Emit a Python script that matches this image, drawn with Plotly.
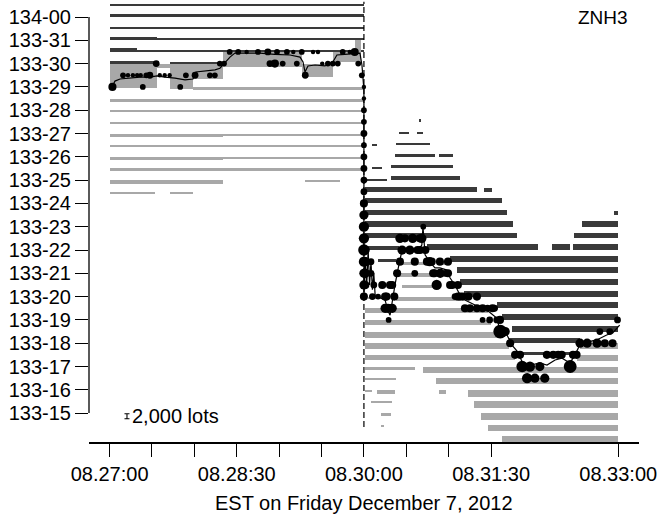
import math
import plotly.graph_objects as go

# ---------------- data ----------------
# time = seconds after 08:27:00 EST ; price = 32nds above 133-00 (32 -> 134-00)
ask_price = [32.5, 32, 31.5, 31, 31, 30.5, 30.5, 30.5, 30, 30,
             27.5, 27, 27, 26.5, 26.5, 26, 26, 25.5, 25.5, 25, 25,
             24.5, 24.5, 24, 23.5, 23.5, 23, 23, 22.5, 22.5,
             22, 22, 22, 22, 21.5, 21.5, 21, 20.5, 20, 19.5, 19, 18.5, 18, 17.5]
ask_from = [0, 0, 0, 0, 33.5, 0, 19.5, 80, 0, 42.5,
            219, 205, 217.5, 186, 203, 202, 233, 186, 199, 181, 199,
            181, 265, 181, 181, 357, 181, 334, 181, 329,
            181, 225, 313, 328, 190, 241, 246, 248, 251, 274, 278, 285, 283, 290]
ask_to = [180, 180, 180, 33.5, 180, 19.5, 80, 180, 33.5, 80,
          220.5, 212, 222, 189, 227, 230, 243, 193, 243, 196, 248,
          260, 271, 278, 281, 360, 285.5, 360, 288, 360,
          205, 303, 326, 360, 203, 360, 360, 360, 360, 360, 360, 360, 333, 331]
ask_lots = [600, 1100, 800, 1200, 800, 1600, 800, 500, 1000, 600,
            1200, 500, 500, 500, 1000, 1200, 1200, 700, 1500, 500, 1600,
            1900, 1500, 2100, 2200, 1800, 2300, 2300, 2300, 2300,
            1500, 2400, 2400, 2400, 1200, 2400, 2400, 2400, 2400, 2400, 2400, 2400, 2000, 1300]

bid_price = [31, 30.5, 30.5, 30, 30, 30, 30, 30, 29, 28.5, 28, 27.5, 27, 27,
             26.5, 26, 26, 25.5, 25, 25, 24.5, 24.5,
             21.5, 21.5, 21, 20.5, 20, 20, 19.5, 19, 18.5, 18, 18, 17.5, 17.5,
             17, 17, 16.5, 16.5, 16, 16, 16, 16, 15.5, 15.5, 15, 15, 14.5, 14.5, 14]
bid_from = [174, 80, 158, 0, 33.5, 42.5, 59, 136, 59, 0, 0, 0, 0, 80,
            0, 0, 80, 0, 0, 138, 0, 43,
            207, 232, 203, 207, 183, 203, 181, 181, 181, 181, 333, 181, 331,
            181, 222, 181, 231, 181, 189, 233, 254, 185, 258, 192, 263, 192, 268, 278]
bid_to = [178, 136, 178, 33.5, 42.5, 59, 80, 158, 180, 180, 180, 180, 80, 180,
          180, 80, 180, 180, 80, 163, 32, 59,
          224, 241, 231, 230, 195, 246, 268, 270, 275, 283, 360, 287, 360,
          216, 360, 203, 360, 186, 202, 238, 360, 200, 360, 199, 360, 194, 360, 360]
bid_lots = [4800, 6000, 4000, 9800, 1800, 10000, 6000, 5200, 1200, 1200, 800, 1000, 1200, 800,
            800, 1400, 1000, 1100, 1400, 600, 1000, 1000,
            1500, 1500, 1500, 1200, 700, 1700, 1700, 2000, 2500, 2300, 2300, 2100, 2600,
            1300, 2400, 700, 2500, 1000, 1500, 1500, 2700, 600, 2600, 1000, 2600, 500, 2600, 2600]

trade_sec = [2, 9.5, 13, 16.5, 19.5, 22, 23.5, 26, 28.5, 33, 35.5, 39, 42.5, 50, 54, 60.5, 71, 74.5,
             78, 81, 85, 91, 97, 105, 112, 113.5, 117, 118.5, 122.5, 125.5, 130, 132.5, 136, 138.5,
             144, 147.5, 150.5, 154.5, 158, 161.5, 165, 170, 173.5, 176, 178.5,
             180, 180, 180, 180, 180, 180, 180, 180, 180, 180, 180, 180, 180, 180, 180, 180, 180, 180, 180,
             181, 181, 181, 181, 185, 185, 186, 187, 190, 193, 195, 195, 196, 197, 197.5, 198.5, 198.5,
             200, 200, 201.5, 203.5, 205.5, 205.5, 207, 209, 212.5, 214.5, 216, 216, 218, 219.5, 219.7,
             221, 222, 223.5, 224.6, 226.5, 228, 229, 230, 231.5, 233.8, 234, 237.5, 239.5, 239.5, 241,
             242.5, 244.5, 246.5, 246.5, 248, 250, 251.5, 254, 255, 260, 260, 264, 264, 267.5, 269, 271,
             272.5, 274, 276.3, 276.5, 280, 283.5, 287, 290.5, 292, 295.5, 297.5, 301, 304.5, 308, 309.5,
             314, 317.5, 320, 326, 328, 330.5, 333, 338, 345, 350.5, 356, 347, 354, 359.5]
trade_price = [29, 29.5, 29.5, 29.5, 29.5, 29.5, 29, 29.5, 29.5, 30, 29.5, 29.5, 29.5, 29, 29.5, 29.5, 29.5, 29.5,
               30, 30, 30.5, 30.5, 30.5, 30.5, 30.5, 30, 30, 30.5, 30, 30.5, 30.5, 30, 30.5, 29.5,
               30.5, 30.5, 30, 30, 30, 30, 30.5, 30.5, 30.5, 30, 29.5,
               29, 28.5, 28, 27.5, 27, 26.5, 26, 25.5, 25, 24.5, 24, 23.5, 23, 22.5, 22, 21.5, 21, 20.5, 20,
               22, 21.5, 21, 20.5, 21.5, 21, 20, 20.5, 20, 20.5, 20, 19.5, 20, 19.5, 19, 19.5, 20.5,
               20.5, 19.5, 20, 21, 21.5, 22.5, 22, 22.5, 22, 22.5, 21, 21.5, 22, 22.5, 22,
               22.5, 23, 22, 21.5, 21.5, 21.5, 21, 21, 20.5, 21.5, 21, 21, 21, 21.5, 20.5,
               20.5, 20, 20.5, 20, 20, 20, 19.5, 20, 19.5, 19.5, 20, 19.5, 19, 19.5, 19, 19.5,
               19.5, 19, 19, 18.5, 18.5, 18, 17.5, 17.5, 17, 16.5, 17, 16.5, 17, 16.5, 17.5,
               17.5, 17.5, 17.5, 17, 17.5, 17.5, 18, 18, 18, 18, 18, 18.5, 18.5, 19]
trade_lots = [1000, 500, 300, 300, 300, 300, 500, 500, 700, 700, 300, 300, 300, 500, 500, 700, 500, 500,
              500, 500, 500, 500, 300, 500, 700, 700, 1000, 500, 500, 500, 300, 500, 500, 700,
              300, 300, 300, 500, 500, 500, 500, 300, 1000, 500, 500,
              300, 300, 500, 500, 700, 500, 700, 700, 700, 700, 1000, 1300, 1600, 1600, 2000, 1600, 1300, 1300, 1000,
              1000, 1300, 1300, 1000, 700, 700, 700, 700, 500, 1000, 1000, 1300, 1000, 1300, 500, 1000, 1000,
              1000, 1300, 1000, 1000, 1000, 1300, 1300, 1000, 1300, 1300, 700, 1000, 1000, 1000, 1000,
              1300, 500, 1000, 1000, 1300, 1000, 1000, 1000, 1600, 1000, 1300, 700, 1000, 1000, 1000,
              1000, 700, 1000, 1000, 1000, 1000, 1000, 1000, 1000, 1000, 1000, 1000, 500, 700, 700, 1000,
              700, 700, 1000, 2900, 1300, 1000, 1000, 1000, 2000, 1600, 1600, 1300, 1300, 1300, 1000,
              1000, 1000, 1000, 2500, 1000, 1000, 1300, 1300, 1300, 1000, 1000, 700, 700, 700]

path_sec = [1.7, 3.8, 7.4, 14.4, 21.5, 28.6, 33.5, 39.2, 46.3, 53.4, 59, 61.1, 67.5, 74.6, 78.1, 81.6,
            85.2, 88.7, 95.8, 106.4, 117, 127.7, 134.8, 136.9, 138.3, 140.4, 145.4, 152.4, 158, 160.9,
            166.5, 173.6, 177.2, 178.6, 179.3, 180, 180, 181, 182, 183, 184, 185, 186, 187, 188, 190,
            195, 197, 198.5, 200, 202, 204, 205.5, 207, 211.2, 214.7, 218.2, 221, 221.8, 222.5, 223.3,
            226.7, 230.3, 233.8, 238.8, 241, 244.4, 248, 251.5, 258.6, 264.2, 269, 274, 276.3, 281.3,
            284.8, 289, 292, 297.6, 304.6, 309.6, 315.3, 320.2, 325.8, 329.3, 332.8, 337.8, 344.8,
            351.8, 356.1, 361]
path_price = [29.0, 29.25, 29.34, 29.38, 29.42, 29.42, 29.47, 29.42, 29.38, 29.3, 29.34, 29.64, 29.68,
              29.73, 29.8, 30.03, 30.28, 30.45, 30.45, 30.45, 30.4, 30.37, 30.28, 30.07, 29.64, 29.9,
              29.94, 29.9, 30.07, 30.37, 30.4, 30.45, 30.45, 29.94, 29.47, 28.87, 20.0, 21.5, 20.5, 22,
              20.5, 21.5, 20.3, 21, 20, 20, 19.85, 19.4, 19.2, 19.85, 20.5, 21.14, 21.66, 22.0, 22.09,
              21.91, 22.0, 22.21, 23.0, 22.2, 21.79, 21.48, 21.23, 21.23, 21.14, 20.8, 20.5, 20.07,
              19.85, 19.64, 19.51, 19.33, 19.08, 18.57, 18.35, 17.92, 17.62, 17.19, 17.06, 17.15,
              17.06, 17.28, 17.36, 17.15, 17.49, 17.92, 18.05, 18.14, 18.35, 18.44, 18.78]

ytick_price = [32, 31, 30, 29, 28, 27, 26, 25, 24, 23, 22, 21, 20, 19, 18, 17, 16, 15]
ytick_text = ["134-00", "133-31", "133-30", "133-29", "133-28", "133-27", "133-26", "133-25",
              "133-24", "133-23", "133-22", "133-21", "133-20", "133-19", "133-18", "133-17",
              "133-16", "133-15"]
xtick_sec = [0, 30, 60, 90, 120, 150, 180, 210, 240, 270, 360]
xtick_text = ["08.27:00", "", "", "08.28:30", "", "", "08.30:00", "", "", "08.31:30", "08.33:00"]
release_sec = 180
scale_lots = 2000
contract = "ZNH3"
x_title = "EST on Friday December 7, 2012"

# ---------------- styling / scales ----------------
PX_PER_32 = 23.3          # vertical pixels per 1/32
LOTS_PER_PX = 400         # book thickness scale
LOT_TO_Y = 1.0 / (LOTS_PER_PX * PX_PER_32)
ASK_COL = "#3a3a3a"
BID_COL = "#a8a8a8"
FONT = "Liberation Sans, Arial, Helvetica, sans-serif"

fig = go.Figure()

ask_w = [q * LOT_TO_Y for q in ask_lots]
fig.add_trace(go.Bar(orientation="h",
                     y=[p + w / 2 for p, w in zip(ask_price, ask_w)],
                     x=[b - a for a, b in zip(ask_from, ask_to)],
                     base=ask_from, width=ask_w,
                     marker=dict(color=ASK_COL, line=dict(width=0)),
                     hoverinfo="skip", showlegend=False))

bid_w = [q * LOT_TO_Y for q in bid_lots]
fig.add_trace(go.Bar(orientation="h",
                     y=[p - w / 2 for p, w in zip(bid_price, bid_w)],
                     x=[b - a for a, b in zip(bid_from, bid_to)],
                     base=bid_from, width=bid_w,
                     marker=dict(color=BID_COL, line=dict(width=0)),
                     hoverinfo="skip", showlegend=False))

fig.add_trace(go.Scatter(x=path_sec, y=path_price, mode="lines",
                         line=dict(color="black", width=1.2),
                         hoverinfo="skip", showlegend=False))

fig.add_trace(go.Scatter(x=trade_sec, y=trade_price, mode="markers",
                         marker=dict(color="black", opacity=1,
                                     size=[math.sqrt(q) / 3.9 for q in trade_lots],
                                     line=dict(width=0)),
                         hoverinfo="skip", showlegend=False))

# scale bar "I 2,000 lots"
scale_bottom = 14.76
scale_h = scale_lots * LOT_TO_Y
fig.add_trace(go.Scatter(x=[12.3], y=[scale_bottom + scale_h / 2], mode="markers",
                         marker=dict(size=1, color="rgba(0,0,0,0)"),
                         error_y=dict(type="data", array=[scale_h / 2], color="black",
                                      thickness=1.1, width=2.5),
                         hoverinfo="skip", showlegend=False))

fig.add_shape(type="line", xref="paper", yref="y", x0=0, x1=0,
              y0=min(ytick_price), y1=max(ytick_price), line=dict(color="black", width=1.3))
fig.add_shape(type="line", xref="x", yref="y", x0=release_sec, x1=release_sec,
              y0=14.4, y1=32.65, line=dict(color="black", width=1.2, dash="6px,3px"))

fig.add_annotation(x=349, y=32.0, xref="x", yref="y", text=contract, showarrow=False,
                   font=dict(family=FONT, size=19, color="black"))
fig.add_annotation(x=14.5, y=scale_bottom + scale_h / 2, xref="x", yref="y", text="2,000 lots",
                   showarrow=False, xanchor="left", yanchor="middle",
                   font=dict(family=FONT, size=20, color="black"))
fig.add_annotation(x=0.5, y=-0.138, xref="paper", yref="paper", text=x_title, showarrow=False,
                   xanchor="center", yanchor="middle",
                   font=dict(family=FONT, size=20, color="black"))

fig.update_layout(
    width=661, height=519,
    margin=dict(l=89, r=22, t=0, b=77),
    paper_bgcolor="white", plot_bgcolor="white",
    barmode="overlay", bargap=0,
    font=dict(family=FONT, size=20, color="black"),
    xaxis=dict(range=[-14.58, 374.7], tickmode="array", tickvals=xtick_sec, ticktext=xtick_text,
               ticks="outside", ticklen=13, tickwidth=1.4, tickcolor="black",
               showline=True, linecolor="black", linewidth=1.6,
               showgrid=False, zeroline=False, tickfont=dict(size=20)),
    yaxis=dict(range=[13.76, 32.73], tickmode="array", tickvals=ytick_price, ticktext=ytick_text,
               ticks="outside", ticklen=13, tickwidth=1.3, tickcolor="black",
               showline=False, showgrid=False, zeroline=False, tickfont=dict(size=20)),
)

fig.write_html("out.html", config={"displayModeBar": False},
               post_script="document.body.style.margin='0';")
